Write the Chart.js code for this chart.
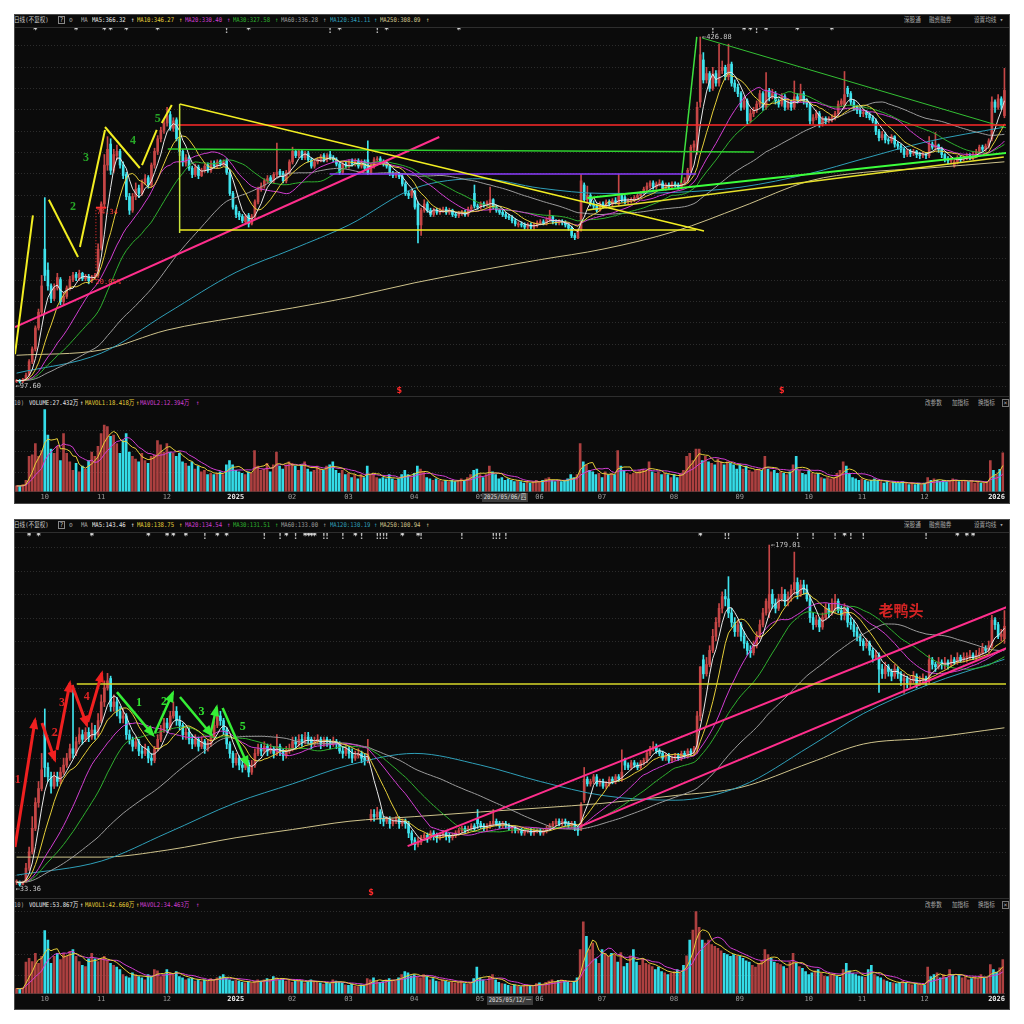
<!DOCTYPE html>
<html>
<head>
<meta charset="utf-8">
<title>日线</title>
<script src="https://cdn.jsdelivr.net/npm/chart.js@4.4.1/dist/chart.umd.min.js"></script>
<style>
  body { margin: 0; width: 1024px; height: 1024px; background: #fff; position: relative; overflow: hidden; }
  .panel { position: absolute; left: 14px; width: 996px; background: #0b0b0b; border: 1px solid #4a4a4a; box-sizing: border-box; }
  .sep { position: absolute; left: 15px; width: 994px; height: 1px; background: #2e2e2e; }
  .t { position: absolute; font: 6.5px/8px "DejaVu Sans Mono", "Noto Sans CJK SC", monospace; white-space: nowrap; color: #b8b8b8;
       transform: scaleX(0.86); transform-origin: 0 0; }
  canvas { position: absolute; }
</style>
</head>
<body>
<div class="panel" style="top:14px;height:490px"></div>
<div class="panel" style="top:519px;height:491px"></div>
<div class="sep" style="top:27px"></div>
<div class="sep" style="top:396px"></div>
<div class="sep" style="top:532px"></div>
<div class="sep" style="top:898px"></div>
<canvas id="p1" width="991" height="367" style="left:15px;top:28px"></canvas>
<canvas id="v1" width="991" height="93" style="left:15px;top:409px"></canvas>
<canvas id="p2" width="991" height="364" style="left:15px;top:533px"></canvas>
<canvas id="v2" width="991" height="94" style="left:15px;top:910px"></canvas>
<script>
// ---- top stock, daily bars 2024-09-18 .. 2026-01 ----
var topOpen = [99,100,99,101,105,118,130,150,165,225,
205,190,178,188,196,175,180,188,196,201,
197,202,197,199,195,198,200,226,268,305,
325,300,314,318,305,296,275,262,275,283,
278,288,293,286,305,318,330,338,345,353,
340,348,330,318,307,312,302,296,303,295,
300,305,300,307,304,309,305,309,298,278,
265,259,256,251,257,249,256,270,282,285,
290,293,290,296,299,297,290,298,308,318,
314,318,312,316,310,304,308,310,314,310,
315,312,310,306,298,306,304,309,306,309,
304,308,310,298,304,310,311,308,306,304,
297,295,296,294,287,278,276,280,268,248,
262,268,262,258,262,260,262,263,260,262,
258,257,259,260,258,263,278,266,265,268,
267,262,272,265,262,260,258,256,255,252,
248,249,248,246,248,246,248,250,251,250,
253,256,251,250,251,250,248,245,238,236,
244,286,272,276,268,266,262,268,266,270,
268,271,268,276,274,270,271,272,274,276,
278,282,285,288,284,287,288,283,286,284,
287,286,284,288,290,300,322,318,365,405,
386,392,378,392,383,395,398,389,401,383,
379,373,360,366,347,354,357,363,373,360,
376,370,373,366,363,370,360,365,360,370,
367,373,366,363,347,350,354,344,349,347,
349,350,354,363,362,378,373,365,360,357,
354,355,353,350,347,337,331,334,329,328,
332,325,323,320,315,318,316,318,315,314,
315,314,325,322,324,320,315,311,309,304,
308,312,311,312,314,312,315,318,322,320,
323,330,365,360,368,352];
var topHigh = [101,101,102,107,120,132,152,168,200,274,
212,192,192,202,198,184,190,199,203,203,
205,203,201,201,200,202,230,270,315,332,
330,320,324,320,308,298,278,278,288,286,
291,296,295,307,321,333,341,348,360,356,
350,350,332,320,315,314,304,306,305,302,
306,307,309,309,310,310,310,311,300,280,
267,261,258,258,259,258,272,284,288,292,
295,295,298,326,301,299,300,310,322,320,
320,320,318,318,312,310,312,315,316,316,
318,314,312,308,308,308,310,311,311,311,
310,310,328,306,312,313,313,310,308,305,
299,298,298,296,289,280,282,281,270,264,
272,270,264,264,264,264,265,265,264,263,
260,261,262,262,265,267,286,268,270,270,
271,284,273,267,263,262,260,258,257,254,
251,251,250,250,250,250,252,253,253,255,
262,257,253,253,253,252,250,247,240,244,
296,288,285,278,271,268,270,270,272,272,
273,274,296,278,276,273,274,276,278,280,
284,288,290,290,289,291,290,288,288,289,
289,288,290,293,302,324,328,365,426.88,412,
398,394,398,395,420,404,400,420,403,386,
382,375,370,368,358,360,366,376,375,393,
378,377,375,368,373,372,368,367,385,373,
382,375,368,365,353,357,356,351,351,351,
353,356,366,368,394,380,375,367,362,359,
358,357,355,352,349,339,337,336,331,334,
333,327,325,321,320,320,320,319,317,317,
317,332,327,336,325,322,316,313,313,310,
314,314,314,316,316,317,320,324,324,325,
330,370,367,372,370,397];
var topLow = [98,97.6,98,100,104,116,128,148,162,195,
186,174,176,186,172,172,178,186,194,195,
195,195,195,192,193,196,198,224,265,300,
296,298,310,302,292,272,258,260,272,274,
276,286,283,284,302,315,327,335,342,338,
337,328,314,304,304,300,293,294,292,294,
298,298,298,302,302,304,304,296,276,263,
255,253,250,250,246,248,254,268,280,283,
288,288,288,294,294,288,288,296,306,312,
312,310,310,308,302,302,306,308,308,308,
310,308,304,296,296,302,302,304,304,302,
302,300,296,296,302,308,306,304,302,295,
293,293,292,285,276,273,274,263,231,238,
260,260,256,256,258,258,260,258,258,256,
255,255,257,256,256,261,264,263,263,265,
265,260,263,260,258,256,254,253,250,247,
246,246,244,244,244,244,246,248,248,248,
251,249,248,248,248,246,243,236,234,235,
242,270,270,266,263,260,261,264,264,266,
266,268,266,270,268,268,269,270,272,274,
276,280,283,282,282,285,281,281,282,282,
284,282,282,286,288,298,318,315,360,383,
383,375,376,380,380,392,386,386,380,375,
370,357,358,344,345,351,355,360,357,358,
366,368,363,360,361,357,358,357,358,364,
365,363,360,344,344,348,341,342,344,345,
346,348,352,361,359,370,362,357,354,351,
351,350,348,345,334,328,329,326,325,326,
322,320,317,312,313,313,314,312,311,312,
311,312,320,319,317,312,308,306,306,303,
306,308,309,310,310,310,313,316,318,318,
321,328,355,358,358,350];
var topClose = [100,99,101,105,118,130,150,165,190,200,
190,178,188,198,175,180,188,196,200,198,
202,197,199,195,198,200,225,268,305,320,
300,315,318,305,295,275,262,275,282,278,
288,292,286,305,318,330,338,345,352,340,
347,330,318,308,312,302,296,303,295,300,
304,300,306,304,308,306,308,298,278,265,
258,256,252,256,249,256,270,282,285,290,
292,290,296,298,296,290,298,308,318,314,
318,312,316,310,304,308,310,313,310,314,
312,310,306,298,306,304,308,306,309,304,
308,302,298,304,310,311,308,306,304,297,
295,296,294,287,278,276,280,265,248,262,
268,262,258,262,260,262,263,260,262,258,
257,259,260,258,263,265,266,265,268,267,
269,272,265,262,260,258,256,255,252,249,
249,248,246,248,246,248,250,251,250,253,
256,251,250,251,250,248,245,238,236,242,
290,272,276,268,266,262,268,266,270,268,
271,270,276,272,270,271,272,274,276,278,
282,285,288,284,287,288,283,286,284,287,
286,284,288,290,300,322,325,360,410,386,
392,378,392,383,395,398,389,401,383,379,
373,360,366,347,354,357,363,373,360,376,
370,373,366,363,370,360,365,360,370,367,
373,366,363,347,350,354,344,349,347,349,
350,354,363,366,372,373,365,360,357,354,
355,353,350,347,337,331,334,329,328,332,
325,323,320,315,318,316,318,315,314,315,
314,325,322,324,320,315,311,309,311,308,
312,311,312,314,312,315,318,322,320,323,
328,365,360,368,362,376];
// volume, 万
var topVol = [4,4,5,8,25,26,34,25,29,58,
40,30,27,32,22,41,27,21,15,20,
14,18,16,22,28,25,32,41,47,46,
39,40,34,27,36,41,28,25,23,21,
27,22,20,25,26,36,33,28,34,28,
27,25,27,21,20,18,21,16,18,14,
15,12,13,12,13,14,12,19,22,19,
15,14,13,12,14,13,29,18,15,16,
20,14,19,28,18,16,19,21,20,18,
15,19,21,16,14,15,18,16,15,18,
19,21,15,13,15,12,13,10,12,9,
12,10,18,12,13,10,9,10,9,12,
9,8,9,12,15,12,10,13,18,16,
14,10,9,8,9,8,7,8,7,8,
7,8,9,8,10,12,15,16,12,10,
12,18,14,12,9,10,8,9,8,7,
8,7,6,7,6,7,8,7,8,9,
10,8,7,8,7,8,9,12,10,12,
34,21,19,15,14,12,13,10,14,12,
13,12,29,18,15,13,12,13,14,15,
16,15,21,14,13,14,12,13,12,10,
12,10,13,15,25,27,22,30,30,22,
25,21,20,19,23,21,19,21,20,19,
16,19,16,18,15,14,15,16,15,25,
16,14,15,13,14,13,12,14,19,25,
15,13,12,15,13,12,13,10,9,10,
9,10,13,15,21,18,13,10,9,8,
9,8,7,8,9,8,7,6,7,6,
7,6,6,7,6,5,6,5,6,5,
6,10,8,9,8,7,8,7,8,9,
8,7,7.5,8,7,8,6,7,6,6,
7,22,15,12,15.7,27.432];

// ---- bottom stock ----
var botOpen = [35,35,34,35,41,48,58,69,75,100,
84,80,76,80,78,82,85,88,92,90,
95,98,96,99,97,100,98,104,112,118,
122,110,112,108,105,106,98,96,93,95,
91,90,92,88,87,92,96,100,103,101,
106,108,104,102,98,99,96,94,96,93,
95,92,94,97,102,106,104,100,94,90,
86,88,85,84,86,82,85,90,92,91,
93,91,92,90,93,91,89,91,92,95,
94,96,95,97,96,94,95,96,94,96,
95,94,95,94,91,90,92,90,88,89,
90,88,87,62,64,63,65,62,61,62,
60,61,62,60,61,60,56,53,51,52,
54,55,54,56,55,54,55,56,55,54,
55,56,57,58,57,58,59,62,60,59,
58,59,60,61,60,59,60,59,58,58,
57,57,56,57,57,56,57,57,56,57,
58,59,60,61,60,61,60,59,60,58,
58,70,79,77,78,80,77,78,76,77,
79,78,80,79,87,85,84,86,85,84,
86,87,90,92,93,91,90,88,89,87,
88,89,88,90,89,91,90,92,106,130,
124,128,134,140,146,152,157,156,150,146,
142,145,140,137,134,133,136,140,145,150,
152,158,154,152,156,158,155,157,160,163,
158,162,160,156,148,145,147,144,148,152,
150,151,155,151,149,152,146,145,142,140,
138,136,137,134,131,132,126,124,127,125,
123,126,124,121,122,120,121,123,120,121,
122,121,130,128,127,129,128,129,128,130,
129,131,130,131,131,132,131,132,133,135,
134,136,147,145,140,139];
var botHigh = [36,35.5,35.5,43,50,63,71,78,90,109,
86,82,82,82,84,88,90,94,119,97,
101,100,101,101,103,102,107,115,121,124.2,
123,115,114,110,109,107,100,97,97,96,
93,94,93,90,93,98,102,105,105,108,
112,110,106,103,101,101,98,98,97,97,
96,96,99,104,109,108,105,101,95,91,
90,89,87,88,87,87,92,94,94,95,
94,94,93,98,94,92,93,94,97,97,
98,98,99,99,97,97,98,97,97,97,
96,97,96,95,93,94,93,92,91,92,
91,90,96,66,66,67,66,63,63,63,
62,63,63,62,62,61,57,54,54,55,
56,56,57,57,56,56,57,57,56,56,
57,58,59,59,59,60,60,66,61,60,
60,61,66,62,61,61,61,60,59,59,
58,58,58,58,58,58,58,58,58,59,
60,61,62,62,62,62,61,61,61,59,
69,84,80,79,81,81,79,79,78,80,
80,81,81,91.5,88,86,87,87,86,87,
88,91,93,95,94,92,91,90,90,89,
90,90,91,91,92,92,93,108,127,132,
131,136,143,148,154,159,160,165.5,152,148,
147,146,142,138,136,138,142,147,152,156,
179.01,160,156,158,161,160,159,162,176,165,
164,164,162,157,150,149,148,150,154,154,
156,158,156,153,154,153,148,147,144,141,
139,139,138,135,134,133,128,129,128,126,
128,127,125,124,123,123,125,124,123,124,
123,132,131,129,131,130,131,130,132,131,
133,132,133,133,134,133,134,135,137,136,
138,149,148,146,143,151];
var botLow = [34,33.36,33.8,35,40,47,57,67,74,80,
78,73,75,76,77,81,84,87,88,89,
94,94,95,95,96,96,97,103,110,117,
108,108,106,103,103,96,94,91,92,89,
88,89,86,85,86,91,95,99,99,100,
105,102,100,96,96,94,92,93,91,92,
90,91,93,96,101,102,98,92,88,84,
85,83,82,83,80,81,84,89,89,90,
89,90,88,89,89,87,88,90,91,92,
93,93,94,94,92,93,94,92,93,93,
92,93,92,90,88,89,88,86,87,88,
86,85,86,61,61,62,60,59,60,58,
59,60,58,59,58,54,51,48.8,50,51,
53,52,53,53,52,53,54,53,52,53,
54,55,56,56,56,57,57,58,58,57,
57,58,59,59,58,58,58,57,56,56,
56,55,55,56,55,55,56,55,55,56,
57,58,59,59,59,59,58,58,57,55,
57,69,76,76,77,76,76,75,75,76,
77,77,78,78,83,83,83,84,83,83,
85,86,89,91,90,89,87,87,86,86,
87,87,87,88,88,89,89,90,104,122,
123,127,133,138,144,150,153,148,144,140,
140,138,135,132,131,132,135,139,144,149,
148,152,150,151,155,153,153,155,158,156,
157,158,155,146,143,144,142,143,147,148,
149,150,150,147,147,144,143,140,138,136,
134,135,132,129,130,116,122,122,123,121,
122,122,119,115.6,118,118,120,118,119,120,
119,120,126,125,126,126,126,126,127,128,
128,129,129,129,130,130,130,131,132,133,
133,135,143,139,138,137];
var botClose = [35,34,35,41,48,58,69,75,83,84,
80,76,80,78,82,85,88,92,90,95,
98,96,99,97,100,98,104,112,118,121,
110,112,108,105,106,98,96,93,95,91,
90,92,88,87,92,96,100,103,101,106,
108,104,102,98,99,96,94,96,93,95,
92,94,97,102,106,104,100,94,90,86,
88,85,84,86,82,85,90,92,91,93,
91,92,90,93,91,89,91,92,95,94,
96,95,97,96,94,95,96,94,96,95,
94,95,94,91,90,92,90,88,89,90,
88,87,90,64,63,65,62,61,62,60,
61,62,60,61,60,56,53,51,52,54,
55,54,56,55,54,55,56,55,54,55,
56,57,58,57,58,59,58,60,59,58,
59,60,61,60,59,60,59,58,58,57,
57,56,57,57,56,57,57,56,57,58,
59,60,61,60,61,60,59,60,58,57,
68,79,77,78,80,77,78,76,77,79,
78,80,79,82,85,84,86,85,84,86,
87,90,92,93,91,90,88,89,87,88,
89,88,90,89,91,90,92,106,127,124,
128,134,140,146,152,157,156,150,146,142,
145,140,137,134,133,136,140,145,150,155,
158,154,152,156,158,155,157,160,163,158,
162,160,156,148,145,147,144,148,152,150,
154,155,151,149,152,146,145,142,140,138,
136,137,134,131,132,126,124,127,125,123,
126,124,121,122,120,121,123,120,121,122,
121,130,128,127,129,128,129,128,130,129,
131,130,131,131,132,131,132,133,135,134,
136,147,145,140,141,144.3];
var botVol = [8,7,9,50,56,51,64,48,59,100,
85,48,59,64,54,64,59,67,70,59,
51,45,43,55,64,55,51,56,59,53,
48,45,42,38,30,27,25,33,30,27,
25,22,30,28,38,36,27,30,38,33,
30,35,27,25,22,24,25,20,22,19,
22,20,24,22,25,27,30,25,22,20,
22,20,18,17,19,17,20,22,20,22,
24,22,27,25,22,24,20,22,18,20,
22,20,17,19,22,20,18,17,15,18,
16,22,20,18,17,14,13,15,12,11,
14,12,24,22,25,20,18,19,22,24,
22,20,25,30,35,33,28,30,27,25,
30,27,22,24,20,19,22,20,18,19,
17,18,20,16,15,17,24,42,25,22,
20,27,30,22,18,16,15,13,12,14,
12,11,13,14,13,12,16,17,15,18,
20,22,19,21,22,20,18,17,19,25,
70,114,91,70,80,55,48,70,64,59,
64,62,50,65,43,48,60,70,50,45,
55,48,46,43,38,42,35,33,30,33,
35,38,32,45,60,85,101,130,105,85,
80,85,78,75,72,68,64,62,59,62,
60,59,56,52,50,45,42,48,52,70,
62,56,50,48,46,43,40,50,64,48,
43,40,35,30,33,36,38,32,28,27,
30,32,28,26,38,48,36,32,30,28,
27,26,38,45,30,27,25,22,20,18,
17,16,18,20,17,15,14,16,15,13,
14,42,27,30,33,25,30,26,38,30,
27,30,25,27,22,24,27,24,30,25,
25,46,38,34,41,53.867];

// long averages at month starts
var maSampleIdx = [0,27,48,70,88,106,127,148,167,187,210,231,253,270,290,315];
var topMa120 = [107,126,164,203,225,248,283,292,283,278,279,284,297,311,327,341.11];
var topMa250 = [124,129,148,160,169,179,193,205,215,225,242,265,290,298,302,308.09];
var botMa120 = [38,44,56,69,77,85,90,85,78,72,70,76,93,107,119,130.19];
var botMa250 = [45.7,45.7,48.7,54,57.5,61,63,65,66.7,68.7,72,75.5,86,94,96.5,100.94];

var monthIdx = [9,27,48,70,88,106,127,148,167,187,210,231,253,270,290,313];
var monthLabels = ['10','11','12','2025','02','03','04','05','06','07','08','09','10','11','12','2026'];

var maNames = ['MA5','MA10','MA20','MA30','MA60','MA120','MA250'];
var maPeriods = [5,10,20,30,60];
var maColors = ['#e8e8e8','#e6cf3a','#d23ed2','#2fb02f','#9c9c9c','#2f9fb8','#cfc38c'];
var topMaText = ['366.32','346.27','330.40','327.58','336.28','341.11','308.09'];
var botMaText = ['143.46','138.75','134.54','131.51','133.00','130.19','100.94'];
var topVolText = ['27.432万','18.418万','12.394万'];
var botVolText = ['53.867万','42.660万','34.463万'];

// hand drawn marks on the charts: [index, price] pairs
var topDrawings = [
  { pts: [[-0.5,125],[5.2,257]], color: '#f2ee22', w: 2 },
  { pts: [[10.3,272],[19.6,217.5]], color: '#f2ee22', w: 2 },
  { pts: [[20.2,227],[28.2,338.4]], color: '#f2ee22', w: 2 },
  { pts: [[28.2,341.2],[39.3,302.2]], color: '#f2ee22', w: 2 },
  { pts: [[40,305],[44.7,338.4]], color: '#f2ee22', w: 2 },
  { pts: [[46.3,345],[49.5,362.2]], color: '#f2ee22', w: 2 },
  { pts: [[52,363.1],[52,240.4]], color: '#c8e43c', w: 1.5 },
  { pts: [[52,243.2],[216.7,243.2]], color: '#f2ee22', w: 1.5 },
  { pts: [[52,363.1],[219.2,242.3]], color: '#f2ee22', w: 1.5 },
  { pts: [[182,262.2],[314.8,312.7]], color: '#e6e02a', w: 1.5 },
  { pts: [[51.4,343.1],[315.7,343.1]], color: '#ff2a2a', w: 1.5 },
  { pts: [[48.2,320.3],[235.2,317.4]], color: '#2ed02e', w: 1.5 },
  { pts: [[99.8,296.5],[216.7,296.5]], color: '#8c3cff', w: 1.5 },
  { pts: [[-0.5,150.9],[134.8,331.7]], color: '#ff2e8c', w: 2 },
  { pts: [[211.9,287.9],[216.9,426.9]], color: '#3ee03e', w: 1.5 },
  { pts: [[218.6,425.9],[315.7,340.3]], color: '#34c034', w: 1 },
  { pts: [[182,273.7],[315.7,316.5]], color: '#3cff3c', w: 2 },
  { pts: [[25.3,264.4],[28.6,264.4]], color: '#ff3030', w: 2 },
  { pts: [[25.3,262],[25.3,195]], color: '#ff3030', w: 1, dash: [1, 2] }
];
var botDrawings = [
  { pts: [[-0.5,50],[5.9,104.3]], color: '#f02020', w: 3, arrow: true },
  { pts: [[8.1,103],[12.2,87.2]], color: '#f02020', w: 3, arrow: true },
  { pts: [[12.9,91.5],[17,120.1]], color: '#f02020', w: 3, arrow: true },
  { pts: [[17.7,119.2],[22.4,102.1]], color: '#f02020', w: 3, arrow: true },
  { pts: [[22.7,103.4],[27.2,124.3]], color: '#f02020', w: 3, arrow: true },
  { pts: [[32,116.2],[43.5,97.9]], color: '#36ee36', w: 2.5, arrow: true },
  { pts: [[44.1,98.7],[49.8,115.8]], color: '#36ee36', w: 2.5, arrow: true },
  { pts: [[52.1,114.1],[62.2,97.9]], color: '#36ee36', w: 2.5, arrow: true },
  { pts: [[61.9,98.7],[63.8,109.8]], color: '#36ee36', w: 2.5, arrow: true },
  { pts: [[65.7,109.4],[73.7,85]], color: '#36ee36', w: 2.5, arrow: true },
  { pts: [[19.2,119.6],[315.7,119.6]], color: '#d8d82a', w: 1.5 },
  { pts: [[124.7,50.4],[315.7,152.5]], color: '#ff2e8c', w: 2 },
  { pts: [[179.4,58.6],[315.7,135]], color: '#ff2e8c', w: 2 }
];
var topWaveNums = [[18,265,'2'],[22.1,311.7,'3'],[37.1,327.9,'4'],[45,348.8,'5']];
var botRedNums = [[0.4,78.6,'1'],[12.2,98.7,'2'],[14.5,111.5,'3'],[22.4,114.1,'4']];
var botGreenNums = [[39,111.5,'1'],[47,112,'2'],[59,107.7,'3'],[72.1,101.3,'5']];
var topFlags = [[6,'*'],[19,'*'],[28,'*'],[30,'*'],[35,'*'],[45,'*'],[67,'!'],[74,'*'],[100,'!'],[103,'*'],[115,'!'],[118,'*'],[141,'*'],[222,'!'],[232,'*'],[234,'*'],[236,'!'],[239,'*'],[249,'*'],[260,'*']];
var botFlags = [[4,'*'],[7,'*'],[24,'*'],[42,'*'],[48,'*'],[50,'*'],[54,'*'],[60,'!'],[64,'*'],[67,'*'],[79,'!'],[84,'!'],[86,'*'],[89,'!'],[92,'*'],[93,'*'],[94,'*'],[95,'*'],[98,'!'],[99,'!'],[104,'!'],[108,'*'],[110,'!'],[115,'!'],[116,'!'],[117,'!'],[118,'!'],[123,'*'],[128,'*'],[129,'!'],[142,'!'],[152,'!'],[153,'!'],[154,'!'],[156,'!'],[218,'*'],[226,'!'],[227,'!'],[249,'!'],[254,'!'],[261,'!'],[264,'*'],[266,'!'],[270,'!'],[290,'!'],[300,'*'],[303,'*'],[305,'*']];

var N = topClose.length;
var UP = '#c64646', DOWN = '#3fe4ee', VUP = '#ad4040', VDOWN = '#34dce8';
var SMALL = '7px "DejaVu Sans Mono"';

function movingAvg(src, n) {
  return src.map(function (_, i) {
    var s = 0;
    for (var k = i - n + 1; k <= i; k++) s += src[Math.max(k, 0)];
    return s / n;
  });
}

function overlay(texts, gridStart, gridGap) {
  return {
    id: 'overlay',
    beforeDatasetsDraw: function (chart) {
      var ctx = chart.ctx, a = chart.chartArea;
      ctx.save();
      ctx.strokeStyle = '#2c2c2c';
      ctx.lineWidth = 1;
      ctx.setLineDash([1, 2]);
      function line(yy) {
        var py = Math.round(a.top + yy) + 0.5;
        ctx.beginPath(); ctx.moveTo(a.left, py); ctx.lineTo(a.right, py); ctx.stroke();
      }
      for (var yy = gridStart; yy < a.bottom - a.top; yy += gridGap) line(yy);
      for (yy = gridStart - gridGap; yy > 0; yy -= gridGap) line(yy);
      ctx.restore();
    },
    afterDatasetsDraw: function (chart) {
      var ctx = chart.ctx, a = chart.chartArea, xs = chart.scales.x, ys = chart.scales.y;
      ctx.save();
      chart.data.datasets.forEach(function (ds, di) {
        if (!ds.arrow) return;
        var pts = chart.getDatasetMeta(di).data;
        var p0 = pts[pts.length - 2], p1 = pts[pts.length - 1];
        var ang = Math.atan2(p1.y - p0.y, p1.x - p0.x), L = 9, W = 4.5;
        var c = Math.cos(ang), s = Math.sin(ang);
        ctx.fillStyle = ds.borderColor;
        ctx.beginPath();
        ctx.moveTo(p1.x + 3 * c, p1.y + 3 * s);
        ctx.lineTo(p1.x - L * c + W * s, p1.y - L * s - W * c);
        ctx.lineTo(p1.x - L * c - W * s, p1.y - L * s + W * c);
        ctx.closePath();
        ctx.fill();
      });
      ctx.textBaseline = 'middle';
      texts.forEach(function (t) {
        ctx.font = t.font;
        ctx.fillStyle = t.color;
        ctx.textAlign = t.align || 'center';
        var py = t.top != null ? a.top + t.top : ys.getPixelForValue(t.y);
        ctx.fillText(t.text, xs.getPixelForValue(t.x), py);
      });
      ctx.restore();
    }
  };
}

function priceChart(id, o, h, l, c, ma120, ma250, drawings, texts, yMin, yMax, gridStart, gridGap) {
  var col = c.map(function (v, i) { return v >= o[i] ? UP : DOWN; });
  var sets = [];
  drawings.forEach(function (d) {
    sets.push({ type: 'line', order: 0, data: d.pts.map(function (p) { return { x: p[0], y: p[1] }; }),
      borderColor: d.color, borderWidth: d.w, borderDash: d.dash || [], pointRadius: 0, arrow: !!d.arrow });
  });
  maPeriods.forEach(function (n, k) {
    sets.push({ type: 'line', order: 1, data: movingAvg(c, n).map(function (v, i) { return { x: i, y: v }; }),
      borderColor: maColors[k], borderWidth: 1, pointRadius: 0 });
  });
  [ma120, ma250].forEach(function (vals, k) {
    sets.push({ type: 'line', order: 1, data: maSampleIdx.map(function (i, j) { return { x: i, y: vals[j] }; }),
      borderColor: maColors[5 + k], borderWidth: 1, pointRadius: 0, cubicInterpolationMode: 'monotone' });
  });
  sets.push({ type: 'bar', order: 2, data: c.map(function (v, i) { return { x: i, y: [o[i], v] }; }),
    backgroundColor: col, barThickness: 2, minBarLength: 1, grouped: false });
  sets.push({ type: 'bar', order: 3, data: c.map(function (v, i) { return { x: i, y: [l[i], h[i]] }; }),
    backgroundColor: col, barThickness: 1, grouped: false });
  return new Chart(document.getElementById(id), {
    type: 'bar',
    data: { datasets: sets },
    options: {
      responsive: false, animation: false, events: [],
      layout: { padding: 0 },
      plugins: { legend: { display: false }, tooltip: { enabled: false } },
      scales: {
        x: { type: 'linear', min: -0.5, max: N - 0.5, offset: false, display: false },
        y: { min: yMin, max: yMax, display: false }
      }
    },
    plugins: [overlay(texts, gridStart, gridGap)]
  });
}

function volumeChart(id, vol, o, c, vMax, gridStart, gridGap) {
  var col = c.map(function (v, i) { return v >= o[i] ? VUP : VDOWN; });
  var isYear = function (ctx) { return ctx.tick && String(ctx.tick.label).length === 4; };
  return new Chart(document.getElementById(id), {
    type: 'bar',
    data: { datasets: [
      { type: 'line', order: 0, data: movingAvg(vol, 5).map(function (v, i) { return { x: i, y: v }; }),
        borderColor: '#e6cf3a', borderWidth: 1, pointRadius: 0 },
      { type: 'line', order: 0, data: movingAvg(vol, 10).map(function (v, i) { return { x: i, y: v }; }),
        borderColor: '#d23ed2', borderWidth: 1, pointRadius: 0 },
      { type: 'bar', order: 1, data: vol.map(function (v, i) { return { x: i, y: v }; }),
        backgroundColor: col, barThickness: 2, grouped: false }
    ] },
    options: {
      responsive: false, animation: false, events: [],
      layout: { padding: 0 },
      plugins: { legend: { display: false }, tooltip: { enabled: false } },
      scales: {
        x: {
          type: 'linear', min: -0.5, max: N - 0.5, offset: false,
          afterBuildTicks: function (ax) { ax.ticks = monthIdx.map(function (v) { return { value: v }; }); },
          ticks: {
            autoSkip: false, maxRotation: 0, minRotation: 0, padding: 1,
            callback: function (v) { return monthLabels[monthIdx.indexOf(v)]; },
            color: function (ctx) { return isYear(ctx) ? '#e6e6e6' : '#9a9a9a'; },
            font: function (ctx) { return { size: 7, family: 'DejaVu Sans Mono', weight: isYear(ctx) ? 'bold' : 'normal' }; }
          },
          grid: { display: false, drawTicks: false },
          border: { display: true, color: '#333' }
        },
        y: { min: 0, max: vMax, display: false }
      }
    },
    plugins: [overlay([], gridStart, gridGap)]
  });
}

function flagTexts(list, top) {
  return list.map(function (f) {
    return { x: f[0], top: top, text: f[1], color: f[1] === '*' ? '#e4e4e4' : '#b8b8b8', font: 'bold 8px "DejaVu Sans"' };
  });
}
function numTexts(list, color) {
  return list.map(function (n) {
    return { x: n[0], y: n[1], text: n[2], color: color, font: 'bold 12px "Liberation Serif"' };
  });
}

var topTexts = flagTexts(topFlags, 3)
  .concat(numTexts(topWaveNums, '#27a827'))
  .concat([
    { x: 218.6, y: 426.5, text: '←426.88', align: 'left', color: '#c8c8c8', font: SMALL },
    { x: -0.3, y: 94.3, text: '←97.60', align: 'left', color: '#c8c8c8', font: SMALL },
    { x: 25.6, y: 260.5, text: '74.34', align: 'left', color: '#ff3a3a', font: SMALL },
    { x: 25.2, y: 193.7, text: '20.05%', align: 'left', color: '#ff3a3a', font: SMALL },
    { x: 122, y: 90, text: '$', color: '#ff2a2a', font: 'bold 8px "DejaVu Sans"' },
    { x: 244, y: 90, text: '$', color: '#ff2a2a', font: 'bold 8px "DejaVu Sans"' }
  ]);
var botTexts = flagTexts(botFlags, 4)
  .concat(numTexts(botRedNums, '#e02424'))
  .concat(numTexts(botGreenNums, '#30e030'))
  .concat([
    { x: 240.6, y: 179.01, text: '←179.01', align: 'left', color: '#c8c8c8', font: SMALL },
    { x: -0.3, y: 31.8, text: '←33.36', align: 'left', color: '#c8c8c8', font: SMALL },
    { x: 113, y: 30.4, text: '$', color: '#ff2a2a', font: 'bold 8px "DejaVu Sans"' },
    { x: 282, y: 151.3, text: '老鸭头', color: '#d42424', font: 'bold 15px "Noto Sans CJK SC"' }
  ]);

priceChart('p1', topOpen, topHigh, topLow, topClose, topMa120, topMa250, topDrawings, topTexts, 86.2, 435.4, 337, 21.3);
volumeChart('v1', topVol, topOpen, topClose, 58.4, 63, 21);
priceChart('p2', botOpen, botHigh, botLow, botClose, botMa120, botMa250, botDrawings, botTexts, 28.66, 184.15, 342, 23.4);
volumeChart('v2', botVol, botOpen, botClose, 132.7, 65, 21.5);

// ---- header rows ----
function put(left, top, text, color, css) {
  var d = document.createElement('div');
  d.className = 't';
  d.style.left = left + 'px';
  d.style.top = top + 'px';
  d.style.color = color || '#b8b8b8';
  if (css) d.style.cssText += css;
  d.textContent = text;
  document.body.appendChild(d);
}
var maLeft = [92, 137, 185, 233, 281, 330, 380];
var maArrow = [131, 179, 227, 275, 323, 374, 426];
function maHeader(top, vals) {
  put(14, top, '日线(不复权)', '#c8c8c8');
  put(58, top, '?', '#bbb', 'border:1px solid #888;width:5px;height:6px;line-height:6px;text-align:center;transform:none;');
  put(69, top, '⚙', '#8a8a8a', 'font-size:7px;');
  put(81, top, 'MA', '#a8a8a8');
  maNames.forEach(function (n, k) {
    put(maLeft[k], top, n + ':' + vals[k], maColors[k]);
    put(maArrow[k], top, '↑', maColors[k]);
  });
  put(904, top, '深股通', '#a8a8a8');
  put(929, top, '融资融券', '#a8a8a8');
  put(974, top, '设置均线 ▾', '#a8a8a8');
}
function volHeader(top, vals) {
  put(14, top, '10)', '#a8a8a8');
  put(29, top, 'VOLUME:' + vals[0], '#e8e8e8'); put(80, top, '↑', '#e8e8e8');
  put(85, top, 'MAVOL1:' + vals[1], '#e6cf3a'); put(136, top, '↑', '#e6cf3a');
  put(140, top, 'MAVOL2:' + vals[2], '#d23ed2'); put(196, top, '↑', '#d23ed2');
  put(925, top, '改参数', '#a8a8a8');
  put(952, top, '加指标', '#a8a8a8');
  put(978, top, '换指标', '#a8a8a8');
  put(1002, top, '×', '#a8a8a8', 'border:1px solid #777;width:5px;height:6px;line-height:6px;text-align:center;transform:none;');
}
maHeader(16, topMaText);
volHeader(399, topVolText);
maHeader(521, botMaText);
volHeader(901, botVolText);
put(482, 493, '2025/05/06/四', '#dcdcdc', 'background:#3c3c3c;padding:0 2px;line-height:9px;');
put(487, 996, '2025/05/12/一', '#dcdcdc', 'background:#3c3c3c;padding:0 2px;line-height:9px;');
</script>
</body>
</html>
